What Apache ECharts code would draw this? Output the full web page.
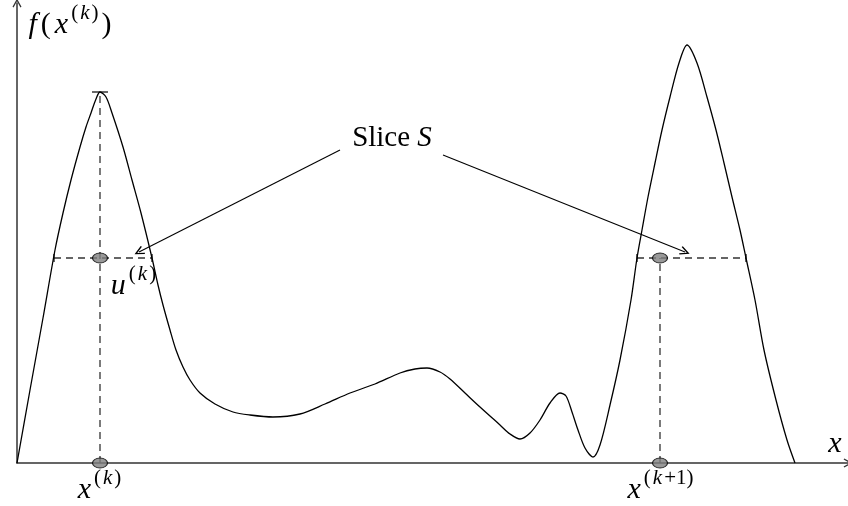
<!DOCTYPE html>
<html><head><meta charset="utf-8">
<script src="https://cdn.jsdelivr.net/npm/echarts@6/dist/echarts.min.js"></script>
<style>html,body{margin:0;padding:0;background:#fff}#c{width:848px;height:506px}</style>
</head><body><div id="c"></div>
<script>
// curve f(x) (abstract units)
const curveX = [0,13,26,38,46,54,63,69,74,79,83,89,95,106,115,124,135,141,146,153,159,166,173,183,198,216,233,256,283,308,333,358,383,398,410,423,433,448,463,483,493,503,513,523,533,543,549,555,561,568,576,583,593,603,614,620,625,631,638,645,653,662,670,680,690,699,707,715,723,729,738,747,759,770,778];
const curveY = [0,73,145,213,250,283,316,336,350,364,371,366,350,316,283,250,205,178,158,133,113,96,83,70,59,51,48,46,49,59,70,79,90,94,95,91,84,70,56,38,29,24,30,43,60,70,67,51,33,15,6,18,58,103,163,205,233,266,300,333,366,400,418,400,366,333,300,266,233,205,163,113,63,23,0];

const xMax = 831, yMax = 460;
const xk = 83, xk1 = 643;
const peakY = 371;
const sliceY = 205;
const sliceLeft = [37, 135];
const sliceRight = [620, 729];
const tickHalf = 4;
const peakTick = [75, 91];
const dotsX = [xk, xk, xk1, xk1];
const dotsY = [sliceY, 0, sliceY, 0];
// arrows: [fromX, fromY, toX, toY]
const arrows = [[323, 313, 122, 211], [426, 308, 668, 211]];

// text labels (anchored at data coordinates)
const labelText = [
  '{i|f}{n|(}{i|x}{s|(}{si|k}{s|)}{n|)}',
  '{i|u}{s|(}{si|k}{s|)}',
  '{i|x}{s|(}{si|k}{s|)}',
  '{i|x}{s|(}{si|k}{s|+1)}',
  '{i|x}',
  '{b|Slice }{bi|S}'
];
const labelX = [53, 116, 82, 643, 818, 375];
const labelY = [438, 177, -27, -27, 19, 325];

const serif = 'Liberation Serif';
const rich = {
  i: {fontFamily: serif, fontStyle: 'italic', fontSize: 30, lineHeight: 44, padding: [0, 2]},
  n: {fontFamily: serif, fontSize: 30, lineHeight: 44, padding: [0, 2]},
  s: {fontFamily: serif, fontSize: 21, lineHeight: 20, verticalAlign: 'top', padding: [0, 1]},
  si: {fontFamily: serif, fontStyle: 'italic', fontSize: 21, lineHeight: 20, verticalAlign: 'top', padding: [0, 1]},
  b: {fontFamily: serif, fontSize: 29, lineHeight: 36},
  bi: {fontFamily: serif, fontStyle: 'italic', fontSize: 29, lineHeight: 36}
};

const dashStyle = {color: '#333', width: 1.3, type: [7, 5]};
function seg(x1, y1, x2, y2, style) {
  return {type: 'line', data: [[x1, y1], [x2, y2]], symbol: 'none', silent: true,
    lineStyle: style, z: 3, clip: false};
}
const chevron = 'path://M0,9 L5,0 L10,9 L8.8,9.8 L5,3 L1.2,9.8 Z';

const series = [];
series.push({
  type: 'line', data: curveX.map((x, i) => [x, curveY[i]]), smooth: 0.3, symbol: 'none',
  lineStyle: {color: '#000', width: 1.3}, z: 4,
  markLine: {
    silent: true, symbol: ['none', chevron], symbolSize: [9, 10],
    label: {show: false},
    lineStyle: {color: '#000', width: 1.1, type: 'solid'},
    data: arrows.map(a => [{coord: [a[0], a[1]]}, {coord: [a[2], a[3]]}])
  }
});
series.push(seg(xk, 0, xk, peakY, dashStyle));
series.push(seg(peakTick[0], peakY, peakTick[1], peakY, {color: '#000', width: 1.2}));
series.push(seg(sliceLeft[0], sliceY, sliceLeft[1], sliceY, dashStyle));
series.push(seg(sliceRight[0], sliceY, sliceRight[1], sliceY, dashStyle));
series.push(seg(xk1, 0, xk1, sliceY, dashStyle));
[sliceLeft[0], sliceLeft[1], sliceRight[0], sliceRight[1]].forEach(x => {
  series.push(seg(x, sliceY - tickHalf, x, sliceY + tickHalf, {color: '#000', width: 1.2}));
});
series.push({
  type: 'scatter', data: dotsX.map((x, i) => [x, dotsY[i]]), symbol: 'circle', symbolSize: [15, 10],
  itemStyle: {color: '#808080', borderColor: '#000', borderWidth: 1}, z: 6, clip: false, silent: true
});

const axisCommon = {
  type: 'value', min: 0, splitLine: {show: false}, axisTick: {show: false}, axisLabel: {show: false},
  axisLine: {show: true, onZero: false, symbol: ['none', chevron], symbolSize: [9, 10],
    lineStyle: {color: '#333', width: 1.5}}
};
const chart = echarts.init(document.getElementById('c'), null, {renderer: 'canvas'});
chart.setOption({
  animation: false,
  backgroundColor: '#fff',
  grid: {left: 17, top: 3, right: 0, bottom: 43, containLabel: false},
  xAxis: Object.assign({}, axisCommon, {max: xMax}),
  yAxis: Object.assign({}, axisCommon, {max: yMax}),
  series: series
});
// place text through the chart's own scales
chart.setOption({
  graphic: labelText.map((t, i) => {
    const p = chart.convertToPixel({gridIndex: 0}, [labelX[i], labelY[i]]);
    return {type: 'text', x: p[0], y: p[1], z: 10, silent: true,
      style: {text: t, rich: rich, align: 'center', verticalAlign: 'middle', fill: '#000'}};
  })
});
</script></body></html>
